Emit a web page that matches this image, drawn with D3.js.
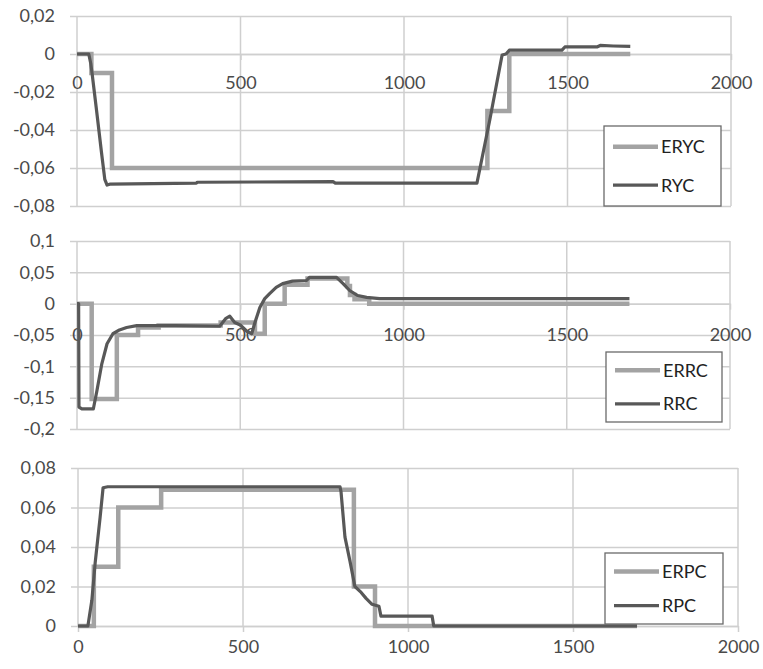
<!DOCTYPE html>
<html>
<head>
<meta charset="utf-8">
<script src="https://cdn.jsdelivr.net/npm/d3@7"></script>
<style>
  body { margin: 0; background: #fff; }
  svg { display: block; }
</style>
</head>
<body>
<div id="svgHolderDiv"></div>
<script>
"use strict";

// tick values
var xTicks = [0, 500, 1000, 1500, 2000];
var ycTicks = [0.02, 0, -0.02, -0.04, -0.06, -0.08];
var rcTicks = [0.1, 0.05, 0, -0.05, -0.1, -0.15, -0.2];
var pcTicks = [0.08, 0.06, 0.04, 0.02, 0];

// yaw: ERYC is a step series (value holds until next x)
var erycX = [0, 44, 107, 1255, 1322, 1692];
var erycY = [0, -0.01, -0.06, -0.03, 0, 0];
var rycX = [0, 36, 42, 46, 60, 75, 85, 92, 100, 365, 368, 783, 790, 1223, 1262, 1300, 1312, 1322, 1483, 1492, 1590, 1600, 1640, 1692];
var rycY = [0, 0, -0.005, -0.01, -0.03, -0.052, -0.066, -0.069, -0.0685, -0.068, -0.0675, -0.0672, -0.068, -0.068, -0.035, -0.0005, 0, 0.002, 0.002, 0.0037, 0.0037, 0.0045, 0.0042, 0.004];

// roll
var errcX = [0, 45, 122, 187, 250, 440, 545, 575, 636, 706, 828, 836, 850, 895, 1692];
var errcY = [0, -0.152, -0.05, -0.038, -0.035, -0.03, -0.048, 0, 0.03, 0.04, 0.028, 0.014, 0.007, 0, 0];
var rrcX = [0, 5, 6, 15, 50, 61, 76, 92, 110, 130, 152, 183, 300, 437, 455, 468, 483, 500, 520, 535, 545, 560, 575, 590, 610, 630, 660, 703, 712, 795, 815, 835, 860, 887, 927, 1692];
var rrcY = [0, 0, -0.165, -0.168, -0.168, -0.139, -0.096, -0.064, -0.048, -0.042, -0.038, -0.035, -0.035, -0.036, -0.024, -0.02, -0.03, -0.034, -0.044, -0.048, -0.03, -0.006, 0.008, 0.016, 0.026, 0.032, 0.036, 0.037, 0.042, 0.042, 0.032, 0.021, 0.013, 0.01, 0.008, 0.008];

// pitch
var erpcX = [0, 48, 122, 252, 836, 900, 1694];
var erpcY = [0, 0.03, 0.06, 0.069, 0.02, 0, 0];
var rpcX = [0, 30, 42, 52, 67, 76, 90, 794, 797, 809, 824, 839, 858, 873, 891, 912, 918, 1073, 1078, 1694];
var rpcY = [0, 0, 0.013, 0.032, 0.055, 0.07, 0.0705, 0.0705, 0.068, 0.045, 0.033, 0.02, 0.017, 0.014, 0.011, 0.01, 0.005, 0.005, 0, 0];

var lightCol = "#a3a3a3",
    darkCol = "#585858",
    gridCol = "#cfcfcf",
    font = "Lato, 'Open Sans', sans-serif";

var fmt = d3.formatLocale({ decimal: ",", thousands: ".", grouping: [3], currency: ["", ""], minus: "-" }).format("~g");

var svg = d3.select("#svgHolderDiv").append("svg")
    .attr("width", 763)
    .attr("height", 669);

svg.append("rect").attr("width", 763).attr("height", 669).attr("fill", "#fff");

var panels = [
    { left: 77, right: 731, top: 16, bottom: 206, ticks: ycTicks, xPad: 16.5,
      e: [erycX, erycY, "ERYC"], r: [rycX, rycY, "RYC"],
      legend: { x: 604, y: 126, w: 117, h: 80 } },
    { left: 77, right: 730, top: 241, bottom: 429, ticks: rcTicks, xPad: 18.5,
      e: [errcX, errcY, "ERRC"], r: [rrcX, rrcY, "RRC"],
      legend: { x: 606, y: 352, w: 116, h: 70 } },
    { left: 78, right: 738, top: 468, bottom: 626, ticks: pcTicks, xPad: 8.5,
      e: [erpcX, erpcY, "ERPC"], r: [rpcX, rpcY, "RPC"],
      legend: { x: 605, y: 553, w: 118, h: 71 } }
];

panels.forEach(function (p) {
    var x = d3.scaleLinear().domain([0, 2000]).range([p.left, p.right]),
        y = d3.scaleLinear().domain([d3.min(p.ticks), d3.max(p.ticks)]).range([p.bottom, p.top]);

    var g = svg.append("g");

    // vertical gridlines
    g.selectAll(".vgrid")
        .data(xTicks)
        .enter().append("line")
        .attr("x1", function (d) { return x(d); })
        .attr("x2", function (d) { return x(d); })
        .attr("y1", p.top)
        .attr("y2", p.bottom)
        .attr("stroke", gridCol)
        .attr("stroke-width", 1.5);

    // y axis with gridlines
    var yAxis = g.append("g")
        .attr("transform", "translate(" + (p.left - 7) + ",0)")
        .call(d3.axisLeft(y).tickValues(p.ticks).tickFormat(fmt)
            .tickSize(-(p.right - p.left + 7)).tickSizeOuter(0).tickPadding(15));
    yAxis.select(".domain").remove();
    yAxis.selectAll("line").attr("stroke", gridCol).attr("stroke-width", 1.5);
    yAxis.selectAll("text")
        .attr("fill", "#4a4a4a")
        .style("font-family", font)
        .style("font-size", "18px");

    // x axis sits on the zero line
    var xAxis = g.append("g")
        .attr("transform", "translate(0," + y(0) + ")")
        .call(d3.axisBottom(x).tickValues(xTicks).tickFormat(function (d) { return String(d); })
            .tickSize(6).tickSizeOuter(0).tickPadding(p.xPad));
    xAxis.select(".domain").attr("stroke", gridCol).attr("stroke-width", 1.5);
    xAxis.selectAll("line").attr("stroke", gridCol).attr("stroke-width", 1.5);
    xAxis.selectAll("text")
        .attr("fill", "#4a4a4a")
        .style("font-family", font)
        .style("font-size", "18px");

    var stepLine = d3.line()
        .x(function (d) { return x(d[0]); })
        .y(function (d) { return y(d[1]); })
        .curve(d3.curveStepAfter);
    var plainLine = d3.line()
        .x(function (d) { return x(d[0]); })
        .y(function (d) { return y(d[1]); });

    g.append("path")
        .datum(d3.zip(p.e[0], p.e[1]))
        .attr("d", stepLine)
        .attr("fill", "none")
        .attr("stroke", lightCol)
        .attr("stroke-width", 4.5);

    g.append("path")
        .datum(d3.zip(p.r[0], p.r[1]))
        .attr("d", plainLine)
        .attr("fill", "none")
        .attr("stroke", darkCol)
        .attr("stroke-width", 3.2)
        .attr("stroke-linejoin", "round");

    // legend
    var L = p.legend;
    var lg = g.append("g").attr("transform", "translate(" + L.x + "," + L.y + ")");
    lg.append("rect")
        .attr("width", L.w).attr("height", L.h)
        .attr("fill", "#fff")
        .attr("stroke", "#6a6a6a")
        .attr("stroke-width", 1.3);
    var items = [[p.e[2], lightCol, 4.5], [p.r[2], darkCol, 3.2]];
    items.forEach(function (it, i) {
        var cy = L.h * (i === 0 ? 0.26 : 0.74);
        lg.append("line")
            .attr("x1", 9).attr("x2", 54)
            .attr("y1", cy).attr("y2", cy)
            .attr("stroke", it[1])
            .attr("stroke-width", it[2]);
        lg.append("text")
            .attr("x", 57)
            .attr("y", cy)
            .attr("dy", "0.35em")
            .attr("fill", "#222")
            .style("font-family", font)
            .style("font-size", "18px")
            .text(it[0]);
    });
});
</script>
</body>
</html>
